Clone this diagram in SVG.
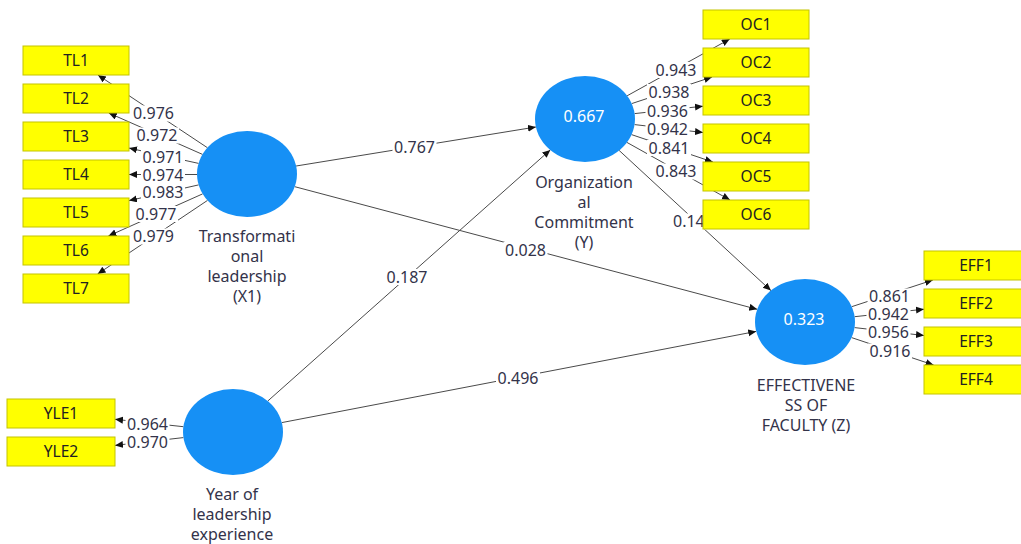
<svg xmlns="http://www.w3.org/2000/svg" width="1021" height="544" viewBox="0 0 1021 544">
<style>
.bg{fill:#ffffff}
.ln{stroke:#4a4a4a;stroke-width:1;fill:none;marker-end:url(#arr)}
.lb{fill:#ffffff;stroke:none}
.num{font-family:"Noto Sans","Liberation Sans",sans-serif;font-size:16px;fill:#33334a;text-anchor:middle}
.box{fill:#ffff00;stroke:#c4c400;stroke-width:1}
.bt{font-family:"Noto Sans","Liberation Sans",sans-serif;font-size:15.5px;fill:#222222;text-anchor:middle}
.lv{fill:#1690f5}
.lvt{font-family:"Noto Sans","Liberation Sans",sans-serif;font-size:16px;fill:#ffffff;text-anchor:middle}
.nl{font-family:"Noto Sans","Liberation Sans",sans-serif;font-size:16px;fill:#33334a;text-anchor:middle}
</style>
<defs>
<marker id="arr" markerUnits="userSpaceOnUse" markerWidth="9" markerHeight="8" refX="8" refY="3.5" orient="auto">
<path d="M0,0 L8,3.5 L0,7 z" fill="#111111"/>
</marker>
</defs>
<rect class="bg" x="0" y="0" width="1021" height="544"/>
<g id="connectors">
<path class="ln" d="M207.4,147.7 L97.9,75"/>
<path class="ln" d="M202.5,154.4 L108.8,113"/>
<path class="ln" d="M198.6,163.4 L129,148.1"/>
<path class="ln" d="M197,174.5 L129,174.5"/>
<path class="ln" d="M198.6,184.9 L129,200.6"/>
<path class="ln" d="M202.6,193.9 L108.4,236"/>
<path class="ln" d="M207.5,200.4 L97.6,274"/>
<path class="ln" d="M627.1,95.8 L729.8,39"/>
<path class="ln" d="M631.7,103.6 L712.1,77"/>
<path class="ln" d="M634.6,113.6 L703,106.2"/>
<path class="ln" d="M634.6,124.6 L703,132.5"/>
<path class="ln" d="M631.5,134.6 L712.9,162"/>
<path class="ln" d="M626.9,142.4 L730,200"/>
<path class="ln" d="M851.7,306.7 L932.9,280"/>
<path class="ln" d="M854.6,316.7 L924,309.2"/>
<path class="ln" d="M854.6,327.6 L924,335.5"/>
<path class="ln" d="M851.6,337.6 L933.6,365"/>
<path class="ln" d="M183.4,426.7 L115,419.3"/>
<path class="ln" d="M183.4,437.6 L115,445.4"/>
<path class="ln" d="M296.1,166 L535.9,127"/>
<path class="ln" d="M294.8,186.7 L757.2,309.3"/>
<path class="ln" d="M267.7,401.1 L550.3,149.9"/>
<path class="ln" d="M281.8,422.6 L756.2,331.4"/>
<path class="ln" d="M619.1,150.4 L770.9,290.6"/>
</g>
<g id="edge-labels">
<rect class="lb" x="131.5" y="105.5" width="44" height="16"/><text class="num" x="153.5" y="119.2">0.976</text>
<rect class="lb" x="135" y="127.5" width="44" height="16"/><text class="num" x="157" y="141.2">0.972</text>
<rect class="lb" x="141" y="149.5" width="44" height="16"/><text class="num" x="163" y="163.2">0.971</text>
<rect class="lb" x="141" y="167" width="44" height="16"/><text class="num" x="163" y="180.7">0.974</text>
<rect class="lb" x="141" y="184.5" width="44" height="16"/><text class="num" x="163" y="198.2">0.983</text>
<rect class="lb" x="134" y="206" width="44" height="16"/><text class="num" x="156" y="219.7">0.977</text>
<rect class="lb" x="131.5" y="228.5" width="44" height="16"/><text class="num" x="153.5" y="242.2">0.979</text>
<rect class="lb" x="654" y="62" width="44" height="16"/><text class="num" x="676" y="75.7">0.943</text>
<rect class="lb" x="647" y="84" width="44" height="16"/><text class="num" x="669" y="97.7">0.938</text>
<rect class="lb" x="645.5" y="103.5" width="44" height="16"/><text class="num" x="667.5" y="117.2">0.936</text>
<rect class="lb" x="645.5" y="121.5" width="44" height="16"/><text class="num" x="667.5" y="135.2">0.942</text>
<rect class="lb" x="647" y="140" width="44" height="16"/><text class="num" x="669" y="153.7">0.841</text>
<rect class="lb" x="654" y="163.5" width="44" height="16"/><text class="num" x="676" y="177.2">0.843</text>
<rect class="lb" x="867.5" y="288.5" width="44" height="16"/><text class="num" x="889.5" y="302.2">0.861</text>
<rect class="lb" x="866.5" y="306.5" width="44" height="16"/><text class="num" x="888.5" y="320.2">0.942</text>
<rect class="lb" x="866.5" y="324.5" width="44" height="16"/><text class="num" x="888.5" y="338.2">0.956</text>
<rect class="lb" x="868" y="343.5" width="44" height="16"/><text class="num" x="890" y="357.2">0.916</text>
<rect class="lb" x="125.5" y="416.5" width="44" height="16"/><text class="num" x="147.5" y="430.2">0.964</text>
<rect class="lb" x="125.5" y="434.5" width="44" height="16"/><text class="num" x="147.5" y="448.2">0.970</text>
<rect class="lb" x="392.5" y="139.5" width="44" height="16"/><text class="num" x="414.5" y="153.2">0.767</text>
<rect class="lb" x="503.5" y="242" width="44" height="16"/><text class="num" x="525.5" y="255.7">0.028</text>
<rect class="lb" x="385" y="269" width="44" height="16"/><text class="num" x="407" y="282.7">0.187</text>
<rect class="lb" x="496" y="370.5" width="44" height="16"/><text class="num" x="518" y="384.2">0.496</text>
<rect class="lb" x="671" y="213.5" width="36" height="16"/><text class="num" x="673" y="227.2" style="text-anchor:start">0.14</text>
</g>
<g id="TL1"><rect class="box" x="23" y="46" width="106" height="29"/><text class="bt" x="76" y="66">TL1</text></g>
<g id="TL2"><rect class="box" x="23" y="84" width="106" height="29"/><text class="bt" x="76" y="104">TL2</text></g>
<g id="TL3"><rect class="box" x="23" y="122" width="106" height="29"/><text class="bt" x="76" y="142">TL3</text></g>
<g id="TL4"><rect class="box" x="23" y="160" width="106" height="29"/><text class="bt" x="76" y="180">TL4</text></g>
<g id="TL5"><rect class="box" x="23" y="198" width="106" height="29"/><text class="bt" x="76" y="218">TL5</text></g>
<g id="TL6"><rect class="box" x="23" y="236" width="106" height="29"/><text class="bt" x="76" y="256">TL6</text></g>
<g id="TL7"><rect class="box" x="23" y="274" width="106" height="29"/><text class="bt" x="76" y="294">TL7</text></g>
<g id="OC1"><rect class="box" x="703" y="10" width="106" height="29"/><text class="bt" x="756" y="30">OC1</text></g>
<g id="OC2"><rect class="box" x="703" y="48" width="106" height="29"/><text class="bt" x="756" y="68">OC2</text></g>
<g id="OC3"><rect class="box" x="703" y="86" width="106" height="29"/><text class="bt" x="756" y="106">OC3</text></g>
<g id="OC4"><rect class="box" x="703" y="124" width="106" height="29"/><text class="bt" x="756" y="144">OC4</text></g>
<g id="OC5"><rect class="box" x="703" y="162" width="106" height="29"/><text class="bt" x="756" y="182">OC5</text></g>
<g id="OC6"><rect class="box" x="703" y="200" width="106" height="29"/><text class="bt" x="756" y="220">OC6</text></g>
<g id="EFF1"><rect class="box" x="924" y="251" width="106" height="29"/><text class="bt" x="976" y="271">EFF1</text></g>
<g id="EFF2"><rect class="box" x="924" y="289" width="106" height="29"/><text class="bt" x="976" y="309">EFF2</text></g>
<g id="EFF3"><rect class="box" x="924" y="327" width="106" height="29"/><text class="bt" x="976" y="347">EFF3</text></g>
<g id="EFF4"><rect class="box" x="924" y="365" width="106" height="29"/><text class="bt" x="976" y="385">EFF4</text></g>
<g id="YLE1"><rect class="box" x="7" y="399" width="108" height="29"/><text class="bt" x="61" y="419">YLE1</text></g>
<g id="YLE2"><rect class="box" x="7" y="437" width="108" height="29"/><text class="bt" x="61" y="457">YLE2</text></g>
<g id="TL">
<ellipse class="lv" cx="247" cy="174" rx="50" ry="43"/>
<text class="nl" x="247" y="242">Transformati</text>
<text class="nl" x="247" y="262">onal</text>
<text class="nl" x="247" y="282">leadership</text>
<text class="nl" x="247" y="302">(X1)</text>
</g>
<g id="OC">
<ellipse class="lv" cx="585" cy="119" rx="50" ry="43"/>
<text class="lvt" x="584" y="121.7">0.667</text>
<text class="nl" x="584" y="188">Organization</text>
<text class="nl" x="584" y="208">al</text>
<text class="nl" x="584" y="228">Commitment</text>
<text class="nl" x="584" y="248">(Y)</text>
</g>
<g id="EFF">
<ellipse class="lv" cx="805" cy="322" rx="50" ry="43"/>
<text class="lvt" x="804" y="325.2">0.323</text>
<text class="nl" x="806" y="391">EFFECTIVENE</text>
<text class="nl" x="806" y="411">SS OF</text>
<text class="nl" x="806" y="431">FACULTY (Z)</text>
</g>
<g id="YLE">
<ellipse class="lv" cx="233" cy="432" rx="50" ry="43"/>
<text class="nl" x="232" y="499.5">Year of</text>
<text class="nl" x="232" y="520">leadership</text>
<text class="nl" x="232" y="540">experience</text>
</g>
</svg>
